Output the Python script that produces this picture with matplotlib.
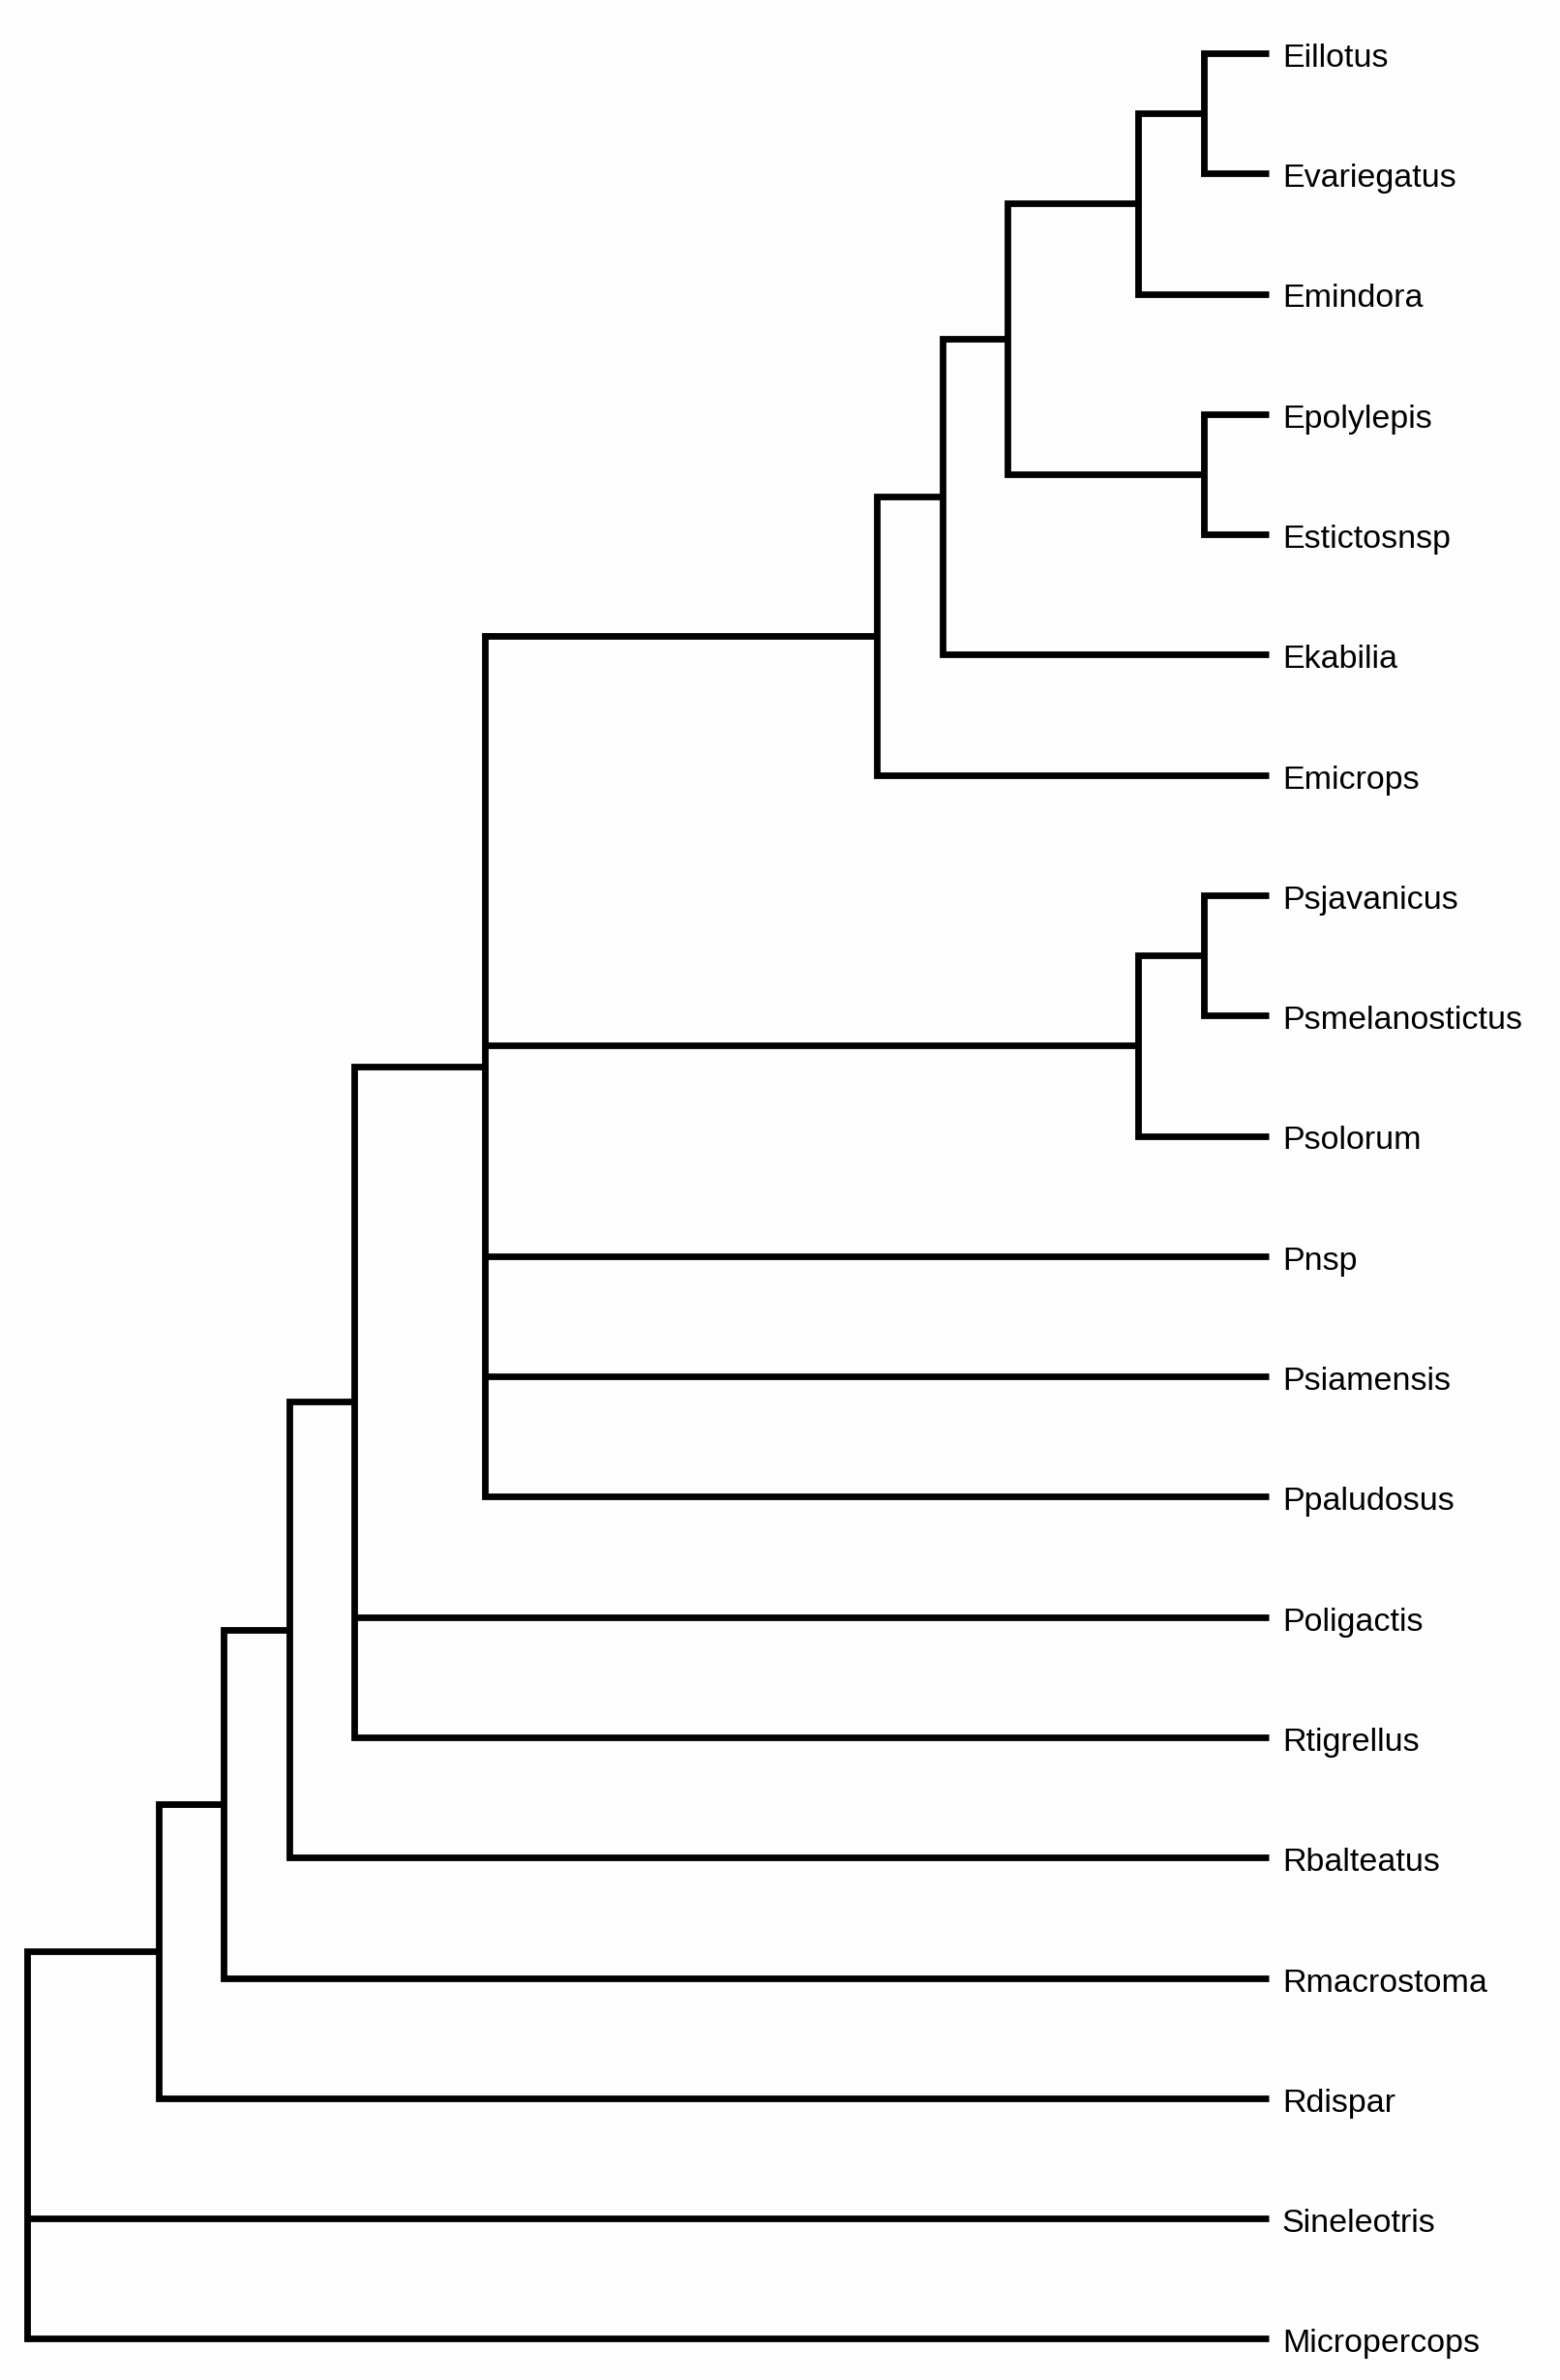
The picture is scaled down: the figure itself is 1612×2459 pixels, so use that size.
import matplotlib
matplotlib.use('Agg')
from matplotlib import pyplot as plt

# Leaves, top to bottom
leaves = ['Eillotus', 'Evariegatus', 'Emindora', 'Epolylepis', 'Estictosnsp',
          'Ekabilia', 'Emicrops', 'Psjavanicus', 'Psmelanostictus', 'Psolorum',
          'Pnsp', 'Psiamensis', 'Ppaludosus', 'Poligactis', 'Rtigrellus',
          'Rbalteatus', 'Rmacrostoma', 'Rdispar', 'Sineleotris', 'Micropercops']
tip_depth = 19

# Internal nodes (cladogram steps from the root) and their children
node_names = ['root', 'n_rd', 'n_rm', 'n_rb', 'n_rt', 'n_pe', 'n_e', 'n_ek',
              'n_15', 'n_em', 'n_ei', 'n_ep', 'n_ps', 'n_pj']
node_depth = [0, 2, 3, 4, 5, 7, 13, 14, 15, 17, 18, 18, 17, 18]
node_children = [
    ['n_rd', 'Sineleotris', 'Micropercops'],
    ['n_rm', 'Rdispar'],
    ['n_rb', 'Rmacrostoma'],
    ['n_rt', 'Rbalteatus'],
    ['n_pe', 'Poligactis', 'Rtigrellus'],
    ['n_e', 'n_ps', 'Pnsp', 'Psiamensis', 'Ppaludosus'],
    ['n_ek', 'Emicrops'],
    ['n_15', 'Ekabilia'],
    ['n_em', 'n_ep'],
    ['n_ei', 'Emindora'],
    ['Eillotus', 'Evariegatus'],
    ['Epolylepis', 'Estictosnsp'],
    ['n_pj', 'Psolorum'],
    ['Psjavanicus', 'Psmelanostictus'],
]

depth = {n: d for n, d in zip(node_names, node_depth)}
children = {n: c for n, c in zip(node_names, node_children)}
ypos = {}
for i, name in enumerate(leaves):
    depth[name] = tip_depth
    ypos[name] = i


def get_y(name):
    # node sits halfway between its first and last child
    if name not in ypos:
        kids_y = [get_y(k) for k in children[name]]
        ypos[name] = (kids_y[0] + kids_y[-1]) / 2
    return ypos[name]


get_y('root')

fig = plt.figure(figsize=(16.12, 24.59), dpi=100, facecolor='#fdfdfd')
ax = fig.add_axes([0, 0, 1, 1])
ax.set_facecolor('#fdfdfd')
ax.set_xlim(-0.4222, 23.459)
ax.set_ylim(19.342, -0.4425)
ax.axis('off')

lw = 4.9
for name in node_names:
    x = depth[name]
    kids = children[name]
    first, last = kids[0], kids[-1]
    # bracket: first child -> node -> last child
    ax.plot([depth[first], x, x, depth[last]],
            [ypos[first], ypos[first], ypos[last], ypos[last]],
            color='black', lw=lw, solid_joinstyle='miter',
            solid_capstyle='butt')
    for k in kids[1:-1]:
        ax.plot([x, depth[k]], [ypos[k], ypos[k]], color='black', lw=lw,
                solid_capstyle='butt')

for name in leaves:
    ax.annotate(name, (tip_depth, ypos[name]), xytext=(10, -10),
                textcoords='offset points', va='baseline', ha='left',
                fontsize=24.5, family='Liberation Sans', color='black')

fig.savefig('out.png', dpi=100, facecolor=fig.get_facecolor())
